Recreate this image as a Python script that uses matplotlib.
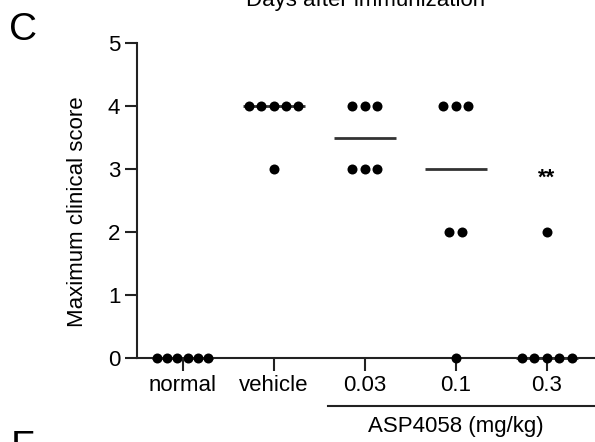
import numpy as np
import matplotlib
matplotlib.use("Agg")
import matplotlib.pyplot as plt
import matplotlib.transforms as mtransforms

plt.rcParams['font.family'] = ['Liberation Sans', 'DejaVu Sans']

# ---- data ----
groups = ["normal", "vehicle", "0.03", "0.1", "0.3"]
scores = {
    "normal":  [0, 0, 0, 0, 0, 0],
    "vehicle": [4, 4, 4, 4, 4, 3],
    "0.03":    [4, 4, 4, 3, 3, 3],
    "0.1":     [4, 4, 4, 2, 2, 0],
    "0.3":     [2, 0, 0, 0, 0, 0],
}
significance = {"0.3": "**"}
yticks = [0, 1, 2, 3, 4, 5]
ylabel = "Maximum clinical score"
bracket_label = "ASP4058 (mg/kg)"
title_text = "Days after immunization"

fig = plt.figure(figsize=(5.95, 4.42), dpi=100)
ax = fig.add_axes([137/595, 1-358/442, 458/595, 315/442])

spacing = 0.136
max_span = 0.565
for i, g in enumerate(groups):
    vals = np.array(scores[g], dtype=float)
    xs, ys = [], []
    for v in sorted(set(vals), reverse=True):
        n = int(np.sum(vals == v))
        sp = min(spacing, max_span / (n - 1)) if n > 1 else 0
        offs = (np.arange(n) - (n - 1) / 2) * sp
        xs.extend(i + offs)
        ys.extend([v] * n)
    med = np.median(vals)
    ax.plot([i - 0.34, i + 0.34], [med, med], color='#333333', lw=2.0,
            zorder=3, clip_on=False, solid_capstyle='butt')
    ax.plot(xs, ys, 'o', color='black', ms=7.2, mew=0, zorder=4, clip_on=False)
    if g in significance:
        ax.text(i, 2.86, significance[g], ha='center', va='center',
                fontsize=16, fontweight='bold')

ax.set_xlim(-0.5, 4.53)
ax.set_ylim(0, 5)
ax.set_xticks(range(len(groups)))
ax.set_xticklabels(groups)
ax.set_yticks(yticks)
ax.tick_params(axis='both', labelsize=16, width=1.5, length=9, pad=3, color='#222222')
for s in ['top', 'right']:
    ax.spines[s].set_visible(False)
for s in ['left', 'bottom']:
    ax.spines[s].set_linewidth(1.5)
    ax.spines[s].set_color('#222222')
ax.set_ylabel(ylabel, fontsize=16)
ax.yaxis.set_label_coords(-0.129, 0.463)
ax.yaxis.label.set_verticalalignment('center')

trans = mtransforms.blended_transform_factory(ax.transData, ax.transAxes)
ax.plot([1.6, 4.53], [-0.152, -0.152], color='#222222', lw=1.5,
        transform=trans, clip_on=False)
ax.text(3.0, -0.219, bracket_label, transform=trans, ha='center', va='center',
        fontsize=16)

fig.text(366/595, 1-6/442, title_text, ha='center', va='baseline', fontsize=16)
fig.text(9/595, 1-40/442, "C", ha='left', va='baseline', fontsize=28)
fig.text(11/595, 1-458/442, "F", ha='left', va='baseline', fontsize=28)

fig.savefig("out.png", dpi=100)
